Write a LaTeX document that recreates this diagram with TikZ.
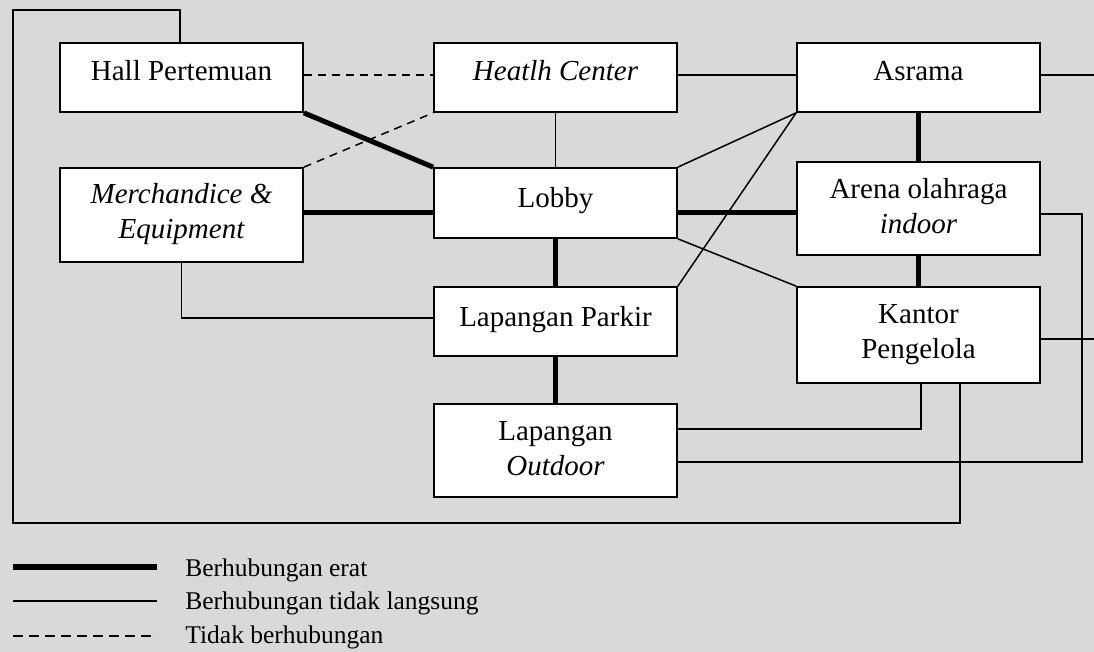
\documentclass[tikz,border=0pt]{standalone}
\usepackage{fontspec}
\setmainfont{Liberation Serif}
\usetikzlibrary{calc}
\definecolor{paper}{HTML}{D9D9D9}

\begin{document}
\begin{tikzpicture}[x=0.5pt,y=-0.5pt,
  room/.style={draw=black, fill=white, line width=0.85pt, rectangle,
    minimum width=121.5pt, inner sep=0pt},
  lbl/.style={anchor=base, inner sep=0pt, font=\fontsize{14.5}{17.5}\selectfont},
  strong/.style={line width=2.5pt},
  weak/.style={line width=0.75pt},
  none/.style={line width=0.75pt, dash pattern=on 4pt off 3pt},
  legtext/.style={anchor=base west, inner sep=0pt, font=\fontsize{12.75}{15}\selectfont}]

% page and background
\fill[paper] (0,0) rectangle (1094,652);
\useasboundingbox (0,0) rectangle (1094,652);

% rooms
\node[room, minimum height=34.5pt] (hall)    at (181.5,77.5)  {};
\node[room, minimum height=47pt]   (merch)   at (181.5,215)   {};
\node[room, minimum height=34.5pt] (health)  at (555.5,77.5)  {};
\node[room, minimum height=35pt]   (lobby)   at (555.5,203)   {};
\node[room, minimum height=34.5pt] (parkir)  at (555.5,321.5) {};
\node[room, minimum height=46.5pt] (outdoor) at (555.5,450.5) {};
\node[room, minimum height=34.5pt] (asrama)  at (918.5,77.5)  {};
\node[room, minimum height=46.5pt] (arena)   at (918.5,208.5) {};
\node[room, minimum height=48pt]   (kantor)  at (918.5,335)   {};

% room names
\node[lbl] at ($(hall.north)+(0,38)$) {Hall Pertemuan};
\node[lbl] at ($(merch.north)+(0,36)$)
  {\begin{tabular}[t]{@{}c@{}}\itshape Merchandice \&\\\itshape Equipment\end{tabular}};
\node[lbl] at ($(health.north)+(0,38)$) {\itshape Heatlh Center};
\node[lbl] at ($(lobby.north)+(0,40)$) {Lobby};
\node[lbl] at ($(parkir.north)+(0,40)$) {Lapangan Parkir};
\node[lbl] at ($(outdoor.north)+(0,37)$)
  {\begin{tabular}[t]{@{}c@{}}Lapangan\\\itshape Outdoor\end{tabular}};
\node[lbl] at ($(asrama.north)+(0,38)$) {Asrama};
\node[lbl] at ($(arena.north)+(0,37)$)
  {\begin{tabular}[t]{@{}c@{}}Arena olahraga\\\itshape indoor\end{tabular}};
\node[lbl] at ($(kantor.north)+(0,37)$)
  {\begin{tabular}[t]{@{}c@{}}Kantor\\Pengelola\end{tabular}};

% routing points
\coordinate (lt) at (13,10);
\coordinate (lb) at (13,523);
\coordinate (rr) at (1082,214);
\coordinate (ae) at (1094,75);
\coordinate (ke) at (1094,339);
\coordinate (mid) at (0,213);

% close relations
\draw[strong] (hall.south east) -- (lobby.north west);
\draw[strong] (merch.east |- mid) -- (lobby.west |- mid);
\draw[strong] (lobby.east |- mid) -- (arena.west |- mid);
\draw[strong] (lobby.south) -- (parkir.north);
\draw[strong] (parkir.south) -- (outdoor.north);
\draw[strong] (asrama.south) -- (arena.north);
\draw[strong] (arena.south) -- (kantor.north);

% indirect relations
\draw[weak] (health.east |- ae) -- (asrama.west |- ae);
\draw[weak] (health.south) -- (lobby.north);
\draw[weak] (lobby.north east) -- (asrama.south west);
\draw[weak] (parkir.north east) -- (asrama.south west);
\draw[weak] (lobby.south east) -- (kantor.north west);
\draw[weak] (merch.south) |- ($(parkir.west)+(0,-3.5)$);
\draw[weak] ($(outdoor.east)+(0,-21.5)$) -| ($(kantor.south)+(2.5,0)$);
\draw[weak] ($(outdoor.east)+(0,11.5)$) -| (rr) -- (arena.east |- rr);
\draw[weak] (asrama.east |- ae) -- (ae);
\draw[weak] (kantor.east |- ke) -- (ke);
\draw[weak] (hall.north -| 180,0) |- (lt) -- (lb) -| ($(kantor.south)+(41.5,0)$);

% no relation
\draw[none] (hall.east |- ae) -- (health.west |- ae);
\draw[none] (merch.north east) -- (health.south west);

% legend
\coordinate (l1a) at (13,567);  \coordinate (l1b) at (157,567);
\coordinate (l2a) at (13,601);  \coordinate (l2b) at (157,601);
\coordinate (l3a) at (13,636);  \coordinate (l3b) at (157,636);
\draw[line width=3.2pt] (l1a) -- (l1b);
\draw[line width=0.85pt] (l2a) -- (l2b);
\draw[line width=0.85pt, dash pattern=on 5pt off 3pt] (l3a) -- (l3b);
\node[legtext] at (185,576) {Berhubungan erat};
\node[legtext] at (185,610) {Berhubungan tidak langsung};
\node[legtext] at (185,643) {Tidak berhubungan};
\end{tikzpicture}
\end{document}
